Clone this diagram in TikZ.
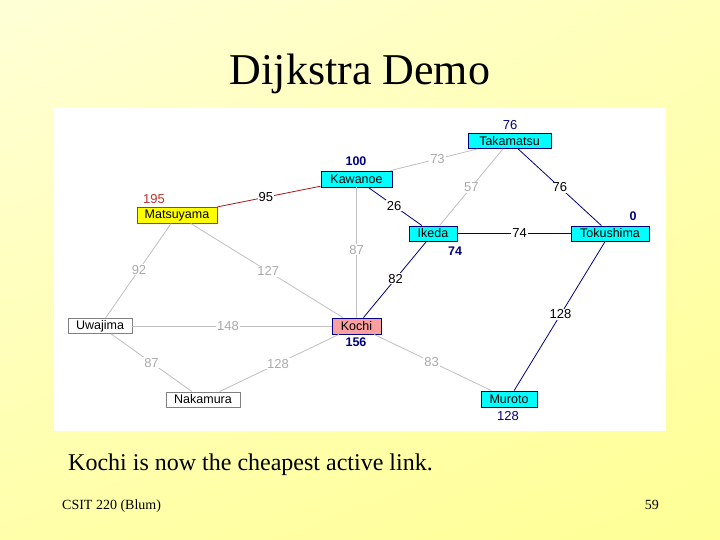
\documentclass[tikz,border=0pt]{standalone}
\usepackage{fontspec}
\setmainfont{Liberation Serif}
\newfontfamily\gfont{Liberation Sans}
\usetikzlibrary{calc,shadings}
\definecolor{navy}{RGB}{0,0,128}
\definecolor{edgegray}{RGB}{192,192,192}
\definecolor{labgray}{RGB}{170,170,170}
\definecolor{maroonline}{RGB}{170,20,20}
\definecolor{distred}{RGB}{190,50,50}
\definecolor{cyanfill}{RGB}{0,255,255}
\definecolor{yelfill}{RGB}{255,255,0}
\definecolor{pinkfill}{RGB}{250,160,160}
\definecolor{bordgray}{RGB}{128,128,128}
\definecolor{bgul}{RGB}{255,255,215}
\definecolor{bgur}{RGB}{255,255,185}
\definecolor{bgll}{RGB}{255,255,170}
\definecolor{bglr}{RGB}{255,255,150}
\tikzset{
  city/.style={draw, line width=0.9pt, inner sep=0pt, font=\gfont\fontsize{12.5}{13}\selectfont, text=black},
  active/.style={city, fill=cyanfill, draw=navy},
  current/.style={city, fill=pinkfill, draw=navy},
  done/.style={city, fill=yelfill, draw=distred},
  idle/.style={city, fill=white, draw=bordgray},
  gedge/.style={draw=edgegray, line width=0.8pt},
  nedge/.style={draw=navy, line width=0.8pt},
  redge/.style={draw=maroonline, line width=0.8pt},
  glab/.style={fill=white, inner sep=1pt, text=labgray, font=\gfont\fontsize{13}{14}\selectfont},
  blab/.style={fill=white, inner sep=1pt, text=black, font=\gfont\fontsize{13}{14}\selectfont},
  dist/.style={inner sep=0pt, text=navy, font=\gfont\bfseries\fontsize{12.5}{14}\selectfont},
  distthin/.style={inner sep=0pt, text=navy, font=\gfont\fontsize{13}{14}\selectfont},
}
\begin{document}
\begin{tikzpicture}[x=1pt, y=-1pt]
\useasboundingbox (0,0) rectangle (720,540);
\shade[upper left=bgul, upper right=bgur, lower left=bgll, lower right=bglr]
  (0,0) rectangle (720,540);
\fill[white] (54,108) rectangle (666,431);

\node[anchor=base, font=\fontsize{44}{48}\selectfont] (title) at (360,85) {Dijkstra Demo};

% cities
\node[active, minimum width=83pt, minimum height=15pt] (tak) at (509.5,141) {Takamatsu};
\node[active, minimum width=71pt, minimum height=16pt] (kaw) at (356.5,179) {Kawanoe};
\node[done, minimum width=80pt, minimum height=16pt] (mat) at (177,215) {Matsuyama};
\node[active, minimum width=48pt, minimum height=15pt] (ike) at (433,233.5) {Ikeda};
\node[active, minimum width=78pt, minimum height=15pt] (tok) at (610,233.5) {Tokushima};
\node[idle, minimum width=64pt, minimum height=15pt] (uwa) at (100,326) {Uwajima};
\node[current, minimum width=49pt, minimum height=16pt] (koc) at (356.5,326) {Kochi};
\node[idle, minimum width=74pt, minimum height=15pt] (nak) at (203,399.5) {Nakamura};
\node[active, minimum width=56pt, minimum height=16pt] (mur) at (509,399) {Muroto};

% edges
\draw[redge] (mat) -- node[blab, pos=0.47] {95} (kaw);
\draw[gedge] (kaw) -- node[glab, pos=0.54] {73} (tak);
\draw[gedge] (tak) -- node[glab, pos=0.5] {57} (ike);
\draw[nedge] (tak) -- node[blab, pos=0.5] {76} (tok);
\draw[nedge] (kaw) -- node[blab, pos=0.48] {26} (ike);
\draw[nedge] (ike) -- node[blab, pos=0.55] {74} (tok);
\draw[gedge] (kaw) -- node[glab, pos=0.48] {87} (koc);
\draw[nedge] (ike) -- node[blab, pos=0.49] {82} (koc);
\draw[nedge] (tok) -- node[blab, pos=0.49] {128} (mur);
\draw[gedge] (koc) -- node[glab, pos=0.49] {83} (mur);
\draw[gedge] (mat) -- node[glab, pos=0.49] {92} (uwa);
\draw[gedge] (mat) -- node[glab, pos=0.51] {127} (koc);
\draw[gedge] (uwa) -- node[glab, pos=0.48] {148} (koc);
\draw[gedge] (uwa) -- node[glab, pos=0.5] {87} (nak);
\draw[gedge] (nak) -- node[glab, pos=0.49] {128} (koc);

% distance labels
\node[distthin, text=distred] (dmat) at (154,199) {195};
\node[dist] (dkaw) at (356,161) {100};
\node[distthin] (dtak) at (510,125) {76};
\node[dist] (dike) at (455,251) {74};
\node[dist] (dtok) at (633,216) {0};
\node[dist] (dkoc) at (356,342) {156};
\node[distthin] (dmur) at (508,416) {128};

% captions
\node[anchor=base west, inner sep=0pt, font=\fontsize{24}{28}\selectfont] (cap) at (68,470) {Kochi is now the cheapest active link.};
\node[anchor=base west, inner sep=0pt, font=\fontsize{14}{16}\selectfont] (foot) at (62,509) {CSIT 220 (Blum)};
\node[anchor=base east, inner sep=0pt, font=\fontsize{14}{16}\selectfont] (page) at (659,509) {59};
\end{tikzpicture}
\end{document}
